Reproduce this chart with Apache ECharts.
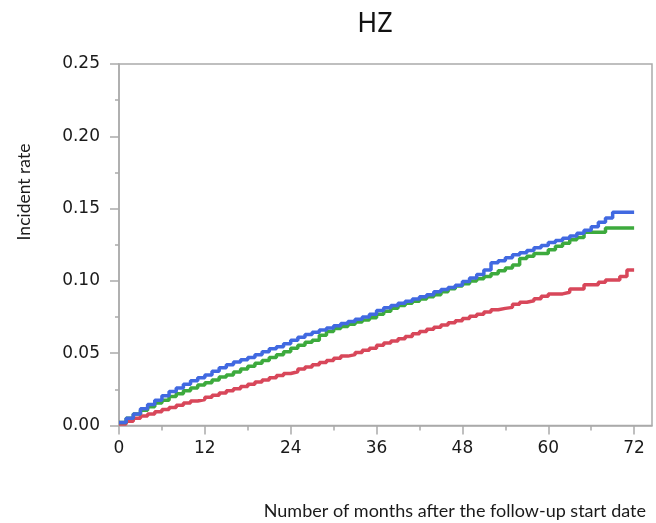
<!DOCTYPE html>
<html>
<head>
<meta charset="utf-8">
<script src="https://cdn.jsdelivr.net/npm/echarts@6/dist/echarts.min.js"></script>
<style>
  html, body { margin: 0; padding: 0; background: #fff; }
  #chart { width: 656px; height: 523px; }
</style>
</head>
<body>
<div id="chart"></div>
<script>
// Cumulative incidence of HZ by month of follow-up (value holds from month i to i+1)
const months = Array.from({ length: 73 }, (_, i) => i);

const blueRate = [
  0.002, 0.005, 0.008, 0.0115, 0.0145, 0.0175, 0.0205, 0.0235, 0.026, 0.0285,
  0.031, 0.033, 0.035, 0.0375, 0.040, 0.042, 0.044, 0.0455, 0.047, 0.049,
  0.051, 0.053, 0.0545, 0.0565, 0.059, 0.061, 0.063, 0.0645, 0.066, 0.0675,
  0.069, 0.0705, 0.072, 0.0735, 0.075, 0.077, 0.0795, 0.0815, 0.083, 0.0845,
  0.086, 0.0875, 0.089, 0.0905, 0.0925, 0.094, 0.0955, 0.097, 0.0995, 0.102,
  0.1045, 0.1075, 0.1125, 0.114, 0.116, 0.118, 0.1195, 0.121, 0.123, 0.1245,
  0.1265, 0.128, 0.1295, 0.131, 0.133, 0.135, 0.1375, 0.1405, 0.1435, 0.1475,
  0.1475, 0.1475, 0.1475
];

const greenRate = [
  0.002, 0.005, 0.008, 0.0105, 0.013, 0.0155, 0.0175, 0.020, 0.022, 0.024,
  0.026, 0.028, 0.0295, 0.0315, 0.0335, 0.035, 0.037, 0.039, 0.041, 0.043,
  0.045, 0.047, 0.049, 0.051, 0.0535, 0.0555, 0.0575, 0.059, 0.0625, 0.065,
  0.067, 0.0685, 0.070, 0.0715, 0.073, 0.0745, 0.077, 0.079, 0.081, 0.083,
  0.0845, 0.086, 0.0875, 0.089, 0.0905, 0.0925, 0.0945, 0.0965, 0.098, 0.100,
  0.1015, 0.103, 0.105, 0.107, 0.109, 0.111, 0.1155, 0.117, 0.119, 0.119,
  0.1215, 0.124, 0.126, 0.1285, 0.130, 0.1336, 0.1336, 0.1336, 0.1366, 0.1366,
  0.1366, 0.1366, 0.1366
];

const redRate = [
  0.001, 0.003, 0.005, 0.0065, 0.008, 0.0095, 0.011, 0.0125, 0.014, 0.0155,
  0.017, 0.018, 0.0195, 0.021, 0.0225, 0.024, 0.0255, 0.027, 0.0285, 0.030,
  0.0315, 0.033, 0.0345, 0.036, 0.0372, 0.039, 0.0405, 0.042, 0.0435, 0.045,
  0.0465, 0.048, 0.049, 0.0505, 0.052, 0.0535, 0.0555, 0.057, 0.0585, 0.060,
  0.0615, 0.0635, 0.065, 0.0665, 0.068, 0.0695, 0.071, 0.0725, 0.074, 0.0755,
  0.077, 0.0785, 0.080, 0.081, 0.0817, 0.0838, 0.0852, 0.0863, 0.0877, 0.0893,
  0.091, 0.091, 0.0921, 0.0944, 0.0944, 0.0974, 0.0974, 0.099, 0.1006, 0.1006,
  0.103, 0.1075, 0.1075
];

const xMajorTicks = [0, 12, 24, 36, 48, 60, 72];
const xMinorTicks = [6, 18, 30, 42, 54, 66];

const AXIS_GREY = '#ababab';
const TICK_FONT = { fontFamily: 'DejaVu Sans', fontSize: 17, color: '#1a1a1a' };

function pairs(values) {
  return months.map((m, i) => [m, values[i]]);
}

function stepSeries(values, color) {
  return {
    type: 'line',
    step: 'end',
    data: pairs(values),
    showSymbol: false,
    symbol: 'none',
    lineStyle: { color: color, width: 3.5 },
    itemStyle: { color: color },
    animation: false
  };
}

const chart = echarts.init(document.getElementById('chart'), null, { renderer: 'canvas' });

chart.setOption({
  backgroundColor: '#ffffff',
  animation: false,
  title: [
    {
      text: 'HZ',
      left: 370,
      top: 6,
      textAlign: 'center',
      textStyle: { fontFamily: 'Noto Sans', fontSize: 27, fontWeight: 'normal', color: '#111' }
    },
    {
      text: 'Number of months after the follow-up start date',
      right: 5,
      top: 497,
      textStyle: { fontFamily: 'Lato', fontSize: 18, fontWeight: 'normal', color: '#1a1a1a' }
    }
  ],
  grid: {
    left: 119,
    right: 4,
    top: 64,
    bottom: 97.5,
    show: true,
    borderColor: AXIS_GREY,
    borderWidth: 1.5,
    backgroundColor: 'transparent'
  },
  xAxis: [
    {
      type: 'value',
      min: 0,
      max: 74.5,
      position: 'bottom',
      axisLine: { show: true, lineStyle: { color: AXIS_GREY, width: 1.5 } },
      axisTick: { show: true, length: 9, customValues: xMajorTicks, lineStyle: { color: AXIS_GREY, width: 1.5 } },
      axisLabel: { show: true, customValues: xMajorTicks, margin: 15, ...TICK_FONT },
      splitLine: { show: false }
    },
    {
      type: 'value',
      min: 0,
      max: 74.5,
      position: 'bottom',
      axisLine: { show: false },
      axisTick: { show: true, length: 5, customValues: xMinorTicks, lineStyle: { color: AXIS_GREY, width: 1.5 } },
      axisLabel: { show: false, customValues: xMinorTicks },
      splitLine: { show: false }
    }
  ],
  yAxis: {
    type: 'value',
    min: 0,
    max: 0.25,
    interval: 0.05,
    axisLine: { show: true, lineStyle: { color: AXIS_GREY, width: 1.5 } },
    axisTick: { show: true, length: 9, lineStyle: { color: AXIS_GREY, width: 1.5 } },
    minorTick: { show: true, splitNumber: 2, length: 4, lineStyle: { color: AXIS_GREY, width: 1.5 } },
    axisLabel: { margin: 19, formatter: v => v.toFixed(2), ...TICK_FONT },
    splitLine: { show: false },
    minorSplitLine: { show: false }
  },
  graphic: [
    {
      type: 'text',
      x: 24,
      y: 192,
      rotation: Math.PI / 2,
      style: {
        text: 'Incident rate',
        font: '17.5px Lato',
        fill: '#1a1a1a',
        align: 'center',
        verticalAlign: 'middle'
      }
    }
  ],
  series: [
    stepSeries(redRate, '#D8475A'),
    stepSeries(greenRate, '#3DAA3D'),
    stepSeries(blueRate, '#4169E1')
  ]
});
</script>
</body>
</html>
